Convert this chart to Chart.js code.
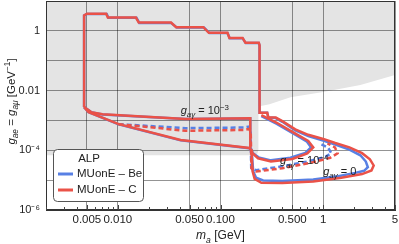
<!DOCTYPE html>
<html>
<head>
<meta charset="utf-8">
<script src="https://cdn.jsdelivr.net/npm/chart.js@4.4.1/dist/chart.umd.min.js"></script>
<style>
body { margin: 0; background: #fff; }
</style>
</head>
<body>
<canvas id="plot" width="399" height="244"></canvas>
<script>
// axis ticks
var xTicks = [0.005, 0.01, 0.05, 0.1, 0.5, 1, 5];
var xTickLabels = ['0.005', '0.010', '0.050', '0.100', '0.500', '1', '5'];
var yTicks = [1e-6, 1e-5, 1e-4, 1e-3, 0.01, 0.1, 1, 10];
var yTickLabels = ['10\u207B\u2076', '', '10\u207B\u2074', '', '0.01', '', '1', ''];

// shaded (already excluded) region, lower edge [m_a, g]
var shadeEdge = [[0.002, 6.8e-5], [0.212, 6.8e-5], [0.228, 7.6e-5], [0.234, 1e-4], [0.234, 0.0029],
  [0.3, 0.0035], [0.48, 0.006], [1.0, 0.0089], [2.3, 0.0153], [5, 0.033]];

// MUonE - Be
var beOuter = [[0.0047, 0.0028], [0.0047, 3.3], [0.005, 3.7], [0.0078, 3.7], [0.0081, 2.75], [0.0152, 2.75],
  [0.0162, 1.85], [0.033, 1.85], [0.0375, 1.3], [0.069, 1.3], [0.078, 0.84], [0.117, 0.84], [0.123, 0.57],
  [0.164, 0.57], [0.176, 0.39], [0.236, 0.39], [0.24, 0.32], [0.24, 0.0018], [0.285, 0.0018], [0.292, 0.00125],
  [0.345, 0.0012], [0.4, 0.0009], [0.535, 0.00046], [0.715, 0.0003], [1.0, 0.00021], [1.31, 0.000155],
  [1.8, 0.000105], [2.3, 6.8e-5], [2.6, 4.2e-5], [2.72, 2.7e-5], [2.5, 2.05e-5], [2.05, 1.75e-5], [1.4, 1.35e-5],
  [0.8, 1.05e-5], [0.4, 9.4e-6], [0.26, 9.8e-6], [0.222, 1.2e-5], [0.208, 2e-5], [0.201, 1e-4], [0.19, 1.18e-4],
  [0.0409, 2.15e-4], [0.0102, 7.4e-4], [0.0052, 0.0019], [0.0047, 0.0028]];
var beBox = [[0.0047, 0.0028], [0.0055, 0.0019], [0.0071, 0.00158], [0.0457, 0.00111], [0.195, 0.00117], [0.195, 0.000117]];
var beInner = [[0.25, 0.0014], [0.35, 0.00078], [0.5, 0.00038], [0.69, 0.0002], [0.76, 0.000125], [0.67, 8.2e-5],
  [0.48, 5.6e-5], [0.31, 4.6e-5], [0.235, 5.8e-5], [0.207, 8e-5], [0.198, 1.1e-4]];
var beDashed = [[0.0102, 0.00075], [0.0457, 0.00055], [0.17, 0.00058], [0.19, 0.00062], [0.196, 0.0005],
  [0.199, 2.6e-5], [0.22, 2.15e-5], [0.4, 2.9e-5], [0.7, 4.2e-5], [1.05, 6e-5], [1.2, 8e-5], [1.12, 0.00012], [0.95, 0.00016]];

// MUonE - C
var cOuter = [[0.0047, 0.0028], [0.0047, 3.3], [0.005, 3.75], [0.0077, 3.75], [0.008, 2.8], [0.015, 2.8],
  [0.016, 1.9], [0.033, 1.9], [0.037, 1.33], [0.068, 1.33], [0.077, 0.86], [0.117, 0.86], [0.122, 0.58],
  [0.164, 0.58], [0.175, 0.4], [0.236, 0.4], [0.24, 0.33], [0.24, 0.0018], [0.285, 0.0018], [0.292, 0.00128],
  [0.345, 0.00125], [0.4, 0.00095], [0.535, 0.0005], [0.715, 0.00033], [1.0, 0.00024], [1.31, 0.000175],
  [1.8, 0.000125], [2.39, 8e-5], [2.85, 5e-5], [3.1, 3.1e-5], [2.95, 2.1e-5], [2.39, 1.6e-5], [1.5, 1.2e-5],
  [0.8, 9e-6], [0.4, 8e-6], [0.25, 8.2e-6], [0.215, 1.1e-5], [0.205, 2e-5], [0.2, 1e-4], [0.19, 1.2e-4],
  [0.0409, 2.2e-4], [0.0102, 7.5e-4], [0.0052, 0.0019], [0.0047, 0.0028]];
var cBox = [[0.0047, 0.0028], [0.0055, 0.0019], [0.0071, 0.0016], [0.0457, 0.00112], [0.195, 0.00118], [0.195, 0.000117]];
var cInner = [[0.25, 0.0015], [0.35, 0.00085], [0.511, 0.0004], [0.715, 0.000205], [0.8, 0.000125], [0.7, 7.9e-5],
  [0.5, 5.1e-5], [0.31, 4.2e-5], [0.232, 5.4e-5], [0.205, 8e-5], [0.198, 1.1e-4]];
var cDashed = [[0.0102, 0.00075], [0.0457, 0.00045], [0.17, 0.00048], [0.19, 0.00052], [0.197, 0.0004],
  [0.2, 2.5e-5], [0.222, 1.95e-5], [0.4, 2.5e-5], [0.75, 3.8e-5], [1.17, 5.6e-5], [1.38, 7.9e-5], [1.3, 0.000125], [1.1, 0.00017]];

var BLUE = 'rgb(88,128,228)';
var RED = 'rgb(234,82,72)';
var FONT = '"Liberation Sans", Arial, sans-serif';

function pts(a) {
  return a.map(function (p) { return { x: p[0], y: p[1] }; });
}

function curve(label, arr, color, dashed) {
  return {
    label: label,
    data: pts(arr),
    borderColor: color,
    borderWidth: 2.5,
    borderDash: dashed ? [5, 3] : [],
    showLine: true,
    pointRadius: 0,
    fill: false,
    tension: 0
  };
}

// text with italics, sub- and superscripts
function drawRich(ctx, parts, x, y, size, align) {
  var w = 0;
  parts.forEach(function (p) {
    var fs = p.s ? size * 0.72 : size;
    ctx.font = (p.i ? 'italic ' : '') + fs + 'px ' + FONT;
    p.w = ctx.measureText(p.t).width;
    w += p.w;
  });
  var cx = align === 'center' ? x - w / 2 : x;
  ctx.textAlign = 'left';
  ctx.textBaseline = 'alphabetic';
  parts.forEach(function (p) {
    var fs = p.s ? size * 0.72 : size;
    ctx.font = (p.i ? 'italic ' : '') + fs + 'px ' + FONT;
    var dy = p.s === -1 ? size * 0.3 : (p.s === 1 ? -size * 0.42 : 0);
    ctx.fillText(p.t, cx, y + dy);
    cx += p.w;
  });
}

function gayLabel(val) {
  var parts = [{ t: 'g', i: true }, { t: 'a\u03B3', i: true, s: -1 }, { t: ' = ' }];
  if (val === 0) parts.push({ t: '0' });
  else { parts.push({ t: '10' }); parts.push({ t: '\u2212' + val, s: 1 }); }
  return parts;
}

var extras = {
  id: 'extras',
  afterDraw: function (chart) {
    var ctx = chart.ctx, a = chart.chartArea;
    var xs = chart.scales.x, ys = chart.scales.y;
    ctx.save();
    // frame
    ctx.strokeStyle = '#333';
    ctx.lineWidth = 1;
    ctx.strokeRect(a.left + 0.5, a.top + 0.5, a.right - a.left - 1, a.bottom - a.top - 1);
    // minor ticks on x axis
    ctx.strokeStyle = '#444';
    for (var d = -3; d <= 0; d++) {
      for (var m = 1; m <= 9; m++) {
        var v = m * Math.pow(10, d);
        if (v < 0.002 || v > 5) continue;
        var px = Math.round(xs.getPixelForValue(v)) + 0.5;
        var len = (m === 1 || m === 5) ? 5 : 3;
        ctx.beginPath();
        ctx.moveTo(px, a.bottom);
        ctx.lineTo(px, a.bottom - len);
        ctx.stroke();
      }
    }
    ctx.fillStyle = '#222';
    // axis titles
    drawRich(ctx, [{ t: 'm', i: true }, { t: 'a', i: true, s: -1 }, { t: ' [GeV]' }], (a.left + a.right) / 2, 239, 12, 'center');
    ctx.save();
    ctx.translate(15, (a.top + a.bottom) / 2 - 4);
    ctx.rotate(-Math.PI / 2);
    drawRich(ctx, [{ t: 'g', i: true }, { t: 'ae', i: true, s: -1 }, { t: ' = ' }, { t: 'g', i: true },
      { t: 'a\u03BC', i: true, s: -1 }, { t: ' [GeV' }, { t: '\u22121', s: 1 }, { t: ']' }], 0, 0, 11.5, 'center');
    ctx.restore();
    // curve labels
    drawRich(ctx, gayLabel(3), xs.getPixelForValue(0.041), ys.getPixelForValue(0.00162), 11, 'left');
    drawRich(ctx, gayLabel(4), xs.getPixelForValue(0.38), ys.getPixelForValue(3.4e-5), 11, 'left');
    drawRich(ctx, gayLabel(0), xs.getPixelForValue(1.0), ys.getPixelForValue(1.5e-5), 11, 'left');
    // legend
    var lx = 53.5, ly = 149.5, lw = 90, lh = 52, r = 4;
    ctx.beginPath();
    ctx.moveTo(lx + r, ly);
    ctx.arcTo(lx + lw, ly, lx + lw, ly + lh, r);
    ctx.arcTo(lx + lw, ly + lh, lx, ly + lh, r);
    ctx.arcTo(lx, ly + lh, lx, ly, r);
    ctx.arcTo(lx, ly, lx + lw, ly, r);
    ctx.closePath();
    ctx.fillStyle = '#fff';
    ctx.fill();
    ctx.strokeStyle = '#555';
    ctx.stroke();
    ctx.fillStyle = '#222';
    ctx.font = '11.5px ' + FONT;
    ctx.textAlign = 'center';
    ctx.textBaseline = 'middle';
    ctx.fillText('ALP', 89, 159);
    ctx.textAlign = 'left';
    [[BLUE, 'MUonE \u2013 Be', 174], [RED, 'MUonE \u2013 C', 190]].forEach(function (it) {
      ctx.strokeStyle = it[0];
      ctx.lineWidth = 3;
      ctx.beginPath();
      ctx.moveTo(58, it[2]);
      ctx.lineTo(73, it[2]);
      ctx.stroke();
      ctx.fillStyle = '#222';
      ctx.fillText(it[1], 77, it[2]);
    });
    ctx.restore();
  }
};

var ctx = document.getElementById('plot').getContext('2d');

// Chart.js draws the first dataset on top, so red (C) comes first
var chart = new Chart(ctx, {
  type: 'scatter',
  data: {
    datasets: [
      curve('MUonE - C', cOuter, RED, false),
      curve('C box', cBox, RED, false),
      curve('C inner', cInner, RED, false),
      curve('C dashed', cDashed, RED, true),
      curve('MUonE - Be', beOuter, BLUE, false),
      curve('Be box', beBox, BLUE, false),
      curve('Be inner', beInner, BLUE, false),
      curve('Be dashed', beDashed, BLUE, true),
      { label: 'shade', data: pts(shadeEdge), showLine: true, borderWidth: 0, pointRadius: 0,
        backgroundColor: '#e4e4e4', fill: 'end', tension: 0 }
    ]
  },
  options: {
    responsive: false,
    animation: false,
    layout: { padding: { left: 0, right: 4, top: 1, bottom: 0 } },
    plugins: {
      legend: { display: false },
      tooltip: { enabled: false },
      filler: { drawTime: 'beforeDraw' }
    },
    scales: {
      x: {
        type: 'logarithmic',
        min: 0.002,
        max: 5,
        afterBuildTicks: function (s) { s.ticks = xTicks.map(function (v) { return { value: v }; }); },
        afterFit: function (s) { s.height = 34; s.paddingLeft = 0; s.paddingRight = 0; },
        ticks: {
          autoSkip: false,
          maxRotation: 0,
          padding: 3,
          color: '#222',
          font: { family: FONT, size: 11.5 },
          callback: function (v, i) { return xTickLabels[i]; }
        },
        grid: { color: 'rgba(0,0,0,0.42)', drawTicks: false },
        border: { color: '#333' }
      },
      y: {
        type: 'logarithmic',
        min: 1e-6,
        max: 10,
        afterBuildTicks: function (s) { s.ticks = yTicks.map(function (v) { return { value: v }; }); },
        afterFit: function (s) { s.width = 46; s.paddingTop = 0; s.paddingBottom = 0; },
        ticks: {
          autoSkip: false,
          padding: 6,
          color: '#222',
          font: { family: FONT, size: 11 },
          callback: function (v, i) { return yTickLabels[i]; }
        },
        grid: { color: 'rgba(0,0,0,0.42)', drawTicks: false },
        border: { color: '#333' }
      }
    }
  },
  plugins: [extras]
});
</script>
</body>
</html>
